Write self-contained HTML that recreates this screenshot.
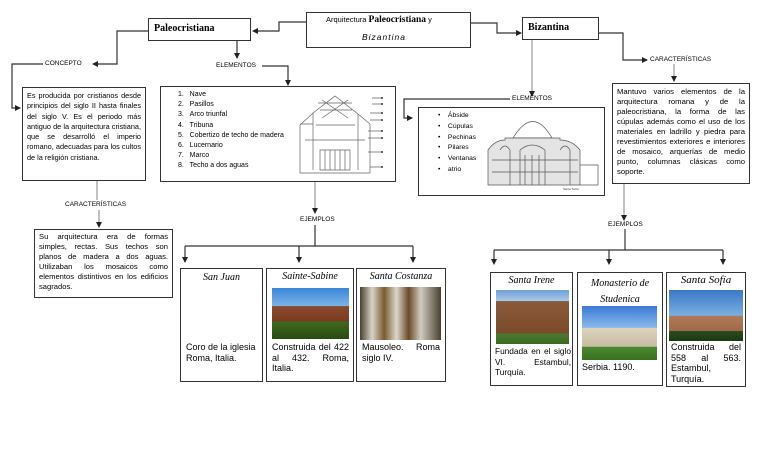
<!DOCTYPE html>
<html><head><meta charset="utf-8"><style>
body{margin:0;background:#fff;}
#c{position:relative;width:768px;height:466px;overflow:hidden;font-family:"Liberation Sans",sans-serif;color:#000;}
.b{position:absolute;border:1.5px solid #333;box-sizing:border-box;background:#fff;}
.t{position:absolute;font-size:6.5px;white-space:nowrap;}
.j{text-align:justify;text-align-last:left;}
.s{font-family:"Liberation Serif",serif;font-weight:bold;}
.sc{font-family:"Liberation Serif",serif;font-style:italic;text-align:center;font-size:10px;}
.card{font-size:9px;line-height:10.5px;}
.ph{position:absolute;}
svg{position:absolute;left:0;top:0;}
</style></head><body><div id="c">
<svg width="768" height="466">
<defs><marker id="a" markerWidth="6" markerHeight="6" refX="5" refY="3" orient="auto" markerUnits="userSpaceOnUse"><path d="M0,0L6,3L0,6z" fill="#222"/></marker></defs>
<g stroke="#333" stroke-width="1.2" fill="none">
<polyline points="306,22 279,22 279,31 253,31" marker-end="url(#a)"/>
<polyline points="470,23 497,23 497,33 521,33" marker-end="url(#a)"/>
<polyline points="148,31 117,31 117,64 93,64" marker-end="url(#a)"/>
<polyline points="43,64 12,64 12,108 20,108" marker-end="url(#a)"/>
<polyline points="237,40 237,58" marker-end="url(#a)"/>
<polyline points="262,66 288,66 288,85" marker-end="url(#a)"/>
<polyline points="97,180 97,200" stroke="#999"/>
<polyline points="99,210 99,227" stroke="#999" marker-end="url(#a)"/>
<polyline points="315,181 315,213" stroke="#999" marker-end="url(#a)"/>
<polyline points="315,225 315,246"/>
<polyline points="185,246 413,246"/>
<polyline points="185,246 185,262" marker-end="url(#a)"/>
<polyline points="299,246 299,262" marker-end="url(#a)"/>
<polyline points="413,246 413,262" marker-end="url(#a)"/>
<polyline points="532,39 532,96" stroke="#999" marker-end="url(#a)"/>
<polyline points="510,99 404,99 404,118 412,118" marker-end="url(#a)"/>
<polyline points="598,33 623,33 623,60 647,60" marker-end="url(#a)"/>
<polyline points="674,64 674,81" stroke="#999" marker-end="url(#a)"/>
<polyline points="624,183 624,220" stroke="#999" marker-end="url(#a)"/>
<polyline points="625,229 625,250"/>
<polyline points="494,250 723,250"/>
<polyline points="494,250 494,264" marker-end="url(#a)"/>
<polyline points="609,250 609,264" marker-end="url(#a)"/>
<polyline points="723,250 723,264" marker-end="url(#a)"/>
</g>
</svg>

<div class="b" style="left:306px;top:12px;width:165px;height:36px;"></div>
<div class="t" style="left:326px;top:15px;font-size:7.5px;">Arquitectura <span class="s" style="font-size:9.5px">Paleocristiana</span> y</div>
<div class="t" style="left:362px;top:32px;font-size:8.5px;font-style:italic;letter-spacing:1px;">Bizantina</div>

<div class="b" style="left:148px;top:18px;width:103px;height:23px;"></div>
<div class="t s" style="left:154px;top:23px;font-size:10px;">Paleocristiana</div>
<div class="b" style="left:522px;top:17px;width:77px;height:23px;"></div>
<div class="t s" style="left:528px;top:22px;font-size:10px;">Bizantina</div>

<div class="t" style="left:45px;top:60px;">CONCEPTO</div>
<div class="t" style="left:216px;top:62px;">ELEMENTOS</div>
<div class="t" style="left:65px;top:201px;">CARACTERÍSTICAS</div>
<div class="t" style="left:300px;top:216px;">EJEMPLOS</div>
<div class="t" style="left:512px;top:95px;">ELEMENTOS</div>
<div class="t" style="left:650px;top:56px;">CARACTERÍSTICAS</div>
<div class="t" style="left:608px;top:221px;">EJEMPLOS</div>

<div class="b j" style="left:22px;top:87px;width:124px;height:94px;padding:3px 4px;font-size:7.3px;line-height:10.3px;">Es producida por cristianos desde principios del siglo II hasta finales del siglo V. Es el periodo más antiguo de la arquitectura cristiana, que se desarrolló el imperio romano, adecuadas para los cultos de la religión cristiana.</div>

<div class="b" style="left:160px;top:86px;width:236px;height:96px;"></div>
<div class="t" style="left:178px;top:90px;font-size:7px;line-height:10.2px;">1.&nbsp;&nbsp;&nbsp;Nave<br>2.&nbsp;&nbsp;&nbsp;Pasillos<br>3.&nbsp;&nbsp;&nbsp;Arco triunfal<br>4.&nbsp;&nbsp;&nbsp;Tribuna<br>5.&nbsp;&nbsp;&nbsp;Cobertizo de techo de madera<br>6.&nbsp;&nbsp;&nbsp;Lucernario<br>7.&nbsp;&nbsp;&nbsp;Marco<br>8.&nbsp;&nbsp;&nbsp;Techo a dos aguas</div>
<svg width="768" height="466"><g stroke="#666" stroke-width="0.7" fill="none">
<path d="M300,155 L300,125 L313,113 L335,96 L358,114 L370,124 L370,173 L300,173 Z"/>
<path d="M313,113 L313,170 M358,114 L358,170 M320,110 L352,110 M316,125 L355,125 M305,140 L365,140 M300,124 L313,124"/>
<path d="M320,150 L350,150 L350,170 L320,170 Z M325,150 L325,170 M330,150 L330,170 M335,150 L335,170 M340,150 L340,170 M345,150 L345,170"/>
<path d="M318,103 L352,103 M322,100 L348,118 M348,100 L322,118"/>
<path d="M372,98 L382,98 M372,104 L382,104 M370,113 L382,113 M370,120 L382,120 M368,131 L382,131 M368,138 L382,138 M368,152 L382,152 M370,167 L382,167"/>
</g><g fill="#333"><circle cx="382" cy="98" r="1"/><circle cx="382" cy="104" r="1"/><circle cx="382" cy="113" r="1"/><circle cx="382" cy="120" r="1"/><circle cx="382" cy="131" r="1"/><circle cx="382" cy="138" r="1"/><circle cx="382" cy="152" r="1"/><circle cx="382" cy="167" r="1"/></g></svg>

<div class="b j" style="left:34px;top:229px;width:139px;height:69px;padding:2px 4px;font-size:7.6px;line-height:10px;">Su arquitectura era de formas simples, rectas. Sus techos son planos de madera a dos aguas. Utilizaban los mosaicos como elementos distintivos en los edificios sagrados.</div>

<div class="b" style="left:418px;top:107px;width:187px;height:89px;"></div>
<div class="t" style="left:438px;top:111px;font-size:6.8px;line-height:10.8px;">•&nbsp;&nbsp;&nbsp;&nbsp;Ábside<br>•&nbsp;&nbsp;&nbsp;&nbsp;Cúpulas<br>•&nbsp;&nbsp;&nbsp;&nbsp;Pechinas<br>•&nbsp;&nbsp;&nbsp;&nbsp;Pilares<br>•&nbsp;&nbsp;&nbsp;&nbsp;Ventanas<br>•&nbsp;&nbsp;&nbsp;&nbsp;atrio</div>
<svg width="768" height="466"><g stroke="#555" stroke-width="0.7" fill="none">
<path d="M513,138 Q533,105 552,138 M513,138 L552,138"/>
<path d="M488,185 L488,150 Q495,140 505,140 L505,138 L560,138 L560,140 Q572,140 580,150 L580,185 Z" fill="#e4e4e4"/>
<path d="M500,150 Q505,142 510,150 L510,185 M520,150 Q532,140 545,150 M545,150 L545,185 M520,150 L520,185 M560,150 Q565,142 570,150 L570,185"/>
<path d="M492,160 L578,160 M492,172 L578,172 M525,155 L525,185 M532,155 L532,185 M539,155 L539,185 M580,165 L598,165 L598,185 L580,185"/>
</g><text x="563" y="190" font-size="3" fill="#333" font-family="Liberation Sans">Santa Sofía</text></svg>

<div class="b j" style="left:612px;top:83px;width:138px;height:101px;padding:3px 4px;font-size:7.7px;line-height:10px;">Mantuvo varios elementos de la arquitectura romana y de la paleocristiana, la forma de las cúpulas además como el uso de los materiales en ladrillo y piedra para revestimientos exteriores e interiores de mosaico, arquerías de medio punto, columnas clásicas como soporte.</div>

<div class="b card" style="left:180px;top:268px;width:83px;height:114px;padding:4px;">
<div class="sc">San Juan</div><div style="position:absolute;top:73px;left:5px;width:74px;">Coro de la iglesia Roma, Italia.</div></div>
<div class="b card" style="left:266px;top:268px;width:88px;height:114px;padding:3px 5px;">
<div class="sc">Sainte-Sabine</div>
<div class="ph" style="left:5px;top:19px;width:77px;height:51px;background:linear-gradient(#3a86d8 0%,#7ab4e6 35%,#8a4a2c 36%,#7b3a20 65%,#3e6a20 66%,#2a4a10 100%);"></div>
<div class="j" style="position:absolute;top:73px;left:5px;width:77px;">Construida del 422 al 432. Roma, Italia.</div></div>
<div class="b card" style="left:356px;top:268px;width:90px;height:114px;padding:3px 5px;">
<div class="sc">Santa Costanza</div>
<div class="ph" style="left:3px;top:18px;width:81px;height:53px;background:linear-gradient(90deg,#4a4030 0%,#d8d4c8 15%,#7a5a30 30%,#ddd8cc 45%,#6a4a28 60%,#d0ccc0 75%,#4a4030 100%);"></div>
<div class="j" style="position:absolute;top:73px;left:5px;width:78px;">Mausoleo. Roma siglo IV.</div></div>

<div class="b card" style="left:490px;top:272px;width:83px;height:114px;padding:3px 5px;">
<div class="sc">Santa Irene</div>
<div class="ph" style="left:5px;top:17px;width:73px;height:54px;background:linear-gradient(#6fa2d8 0%,#a8c8e8 20%,#8a5a3a 21%,#7a4a2a 80%,#4a7a30 81%,#3a6a20 100%);"></div>
<div class="j" style="position:absolute;top:73px;left:4px;width:76px;font-size:8.3px;">Fundada en el siglo VI. Estambul, Turquía.</div></div>
<div class="b card" style="left:577px;top:272px;width:86px;height:114px;padding:3px 5px;">
<div class="sc" style="line-height:16px;">Monasterio de Studenica</div>
<div class="ph" style="left:4px;top:33px;width:75px;height:54px;background:linear-gradient(#3a7ad8 0%,#8ab8e8 40%,#ddd4c0 41%,#c8bca0 75%,#4a8a30 76%,#3a7020 100%);"></div>
<div style="position:absolute;top:89px;left:4px;">Serbia. 1190.</div></div>
<div class="b card" style="left:666px;top:272px;width:80px;height:115px;padding:2px 3px;">
<div class="sc" style="font-size:11px;">Santa Sofía</div>
<div class="ph" style="left:2px;top:17px;width:74px;height:51px;background:linear-gradient(#3a78c8 0%,#7ab0e0 50%,#b07a5a 51%,#a06a48 80%,#2a4a20 81%,#1a3a10 100%);"></div>
<div class="j" style="position:absolute;top:69px;left:4px;width:70px;">Construida del 558 al 563. Estambul, Turquía.</div></div>
</div></body></html>
